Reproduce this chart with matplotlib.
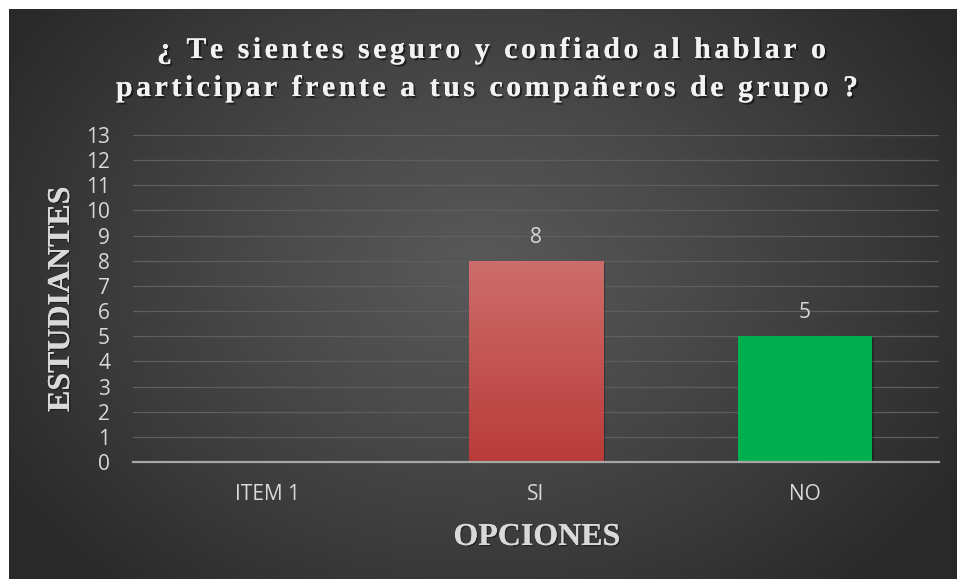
import numpy as np
import matplotlib
matplotlib.use("Agg")
import matplotlib.pyplot as plt
import matplotlib.patheffects as pe
from matplotlib import font_manager
from matplotlib.font_manager import FontProperties
from matplotlib.ft2font import FT2Font

plt.rcParams['font.family'] = ['Open Sans', 'DejaVu Sans']

categories = ["ITEM 1", "SI", "NO"]
values = [0, 8, 5]
yticks = list(range(0, 14))
title_lines = ["¿ Te sientes seguro y confiado al hablar o",
               "participar frente a tus compañeros de grupo ?"]
ylabel = "ESTUDIANTES"
xlabel = "OPCIONES"

W, H = 957, 579
fig = plt.figure(figsize=(W / 100, H / 100), dpi=100)
fig.patch.set_facecolor("white")

# dark radial background, white strip on the left and top
bg = fig.add_axes([9 / W, 0, 1 - 9 / W, 1 - 9 / H])
yy, xx = np.mgrid[0:570, 0:948]
r = np.sqrt(((xx - 470) / 560.0) ** 2 + ((yy - 260) / 430.0) ** 2)
r = np.clip(r, 0, 1) ** 1.2
c0, c1 = 0x58 / 255, 0x29 / 255
img = np.repeat((c0 + (c1 - c0) * r)[..., None], 3, axis=2)
bg.imshow(img, aspect='auto')
bg.axis('off')

ax = fig.add_axes([133 / W, 1 - 462 / H, (939 - 133) / W, (462 - 135) / H])
ax.patch.set_alpha(0)

x = np.arange(len(categories))
shadow = [pe.withSimplePatchShadow(offset=(1.5, -1.5), shadow_rgbFace='black', alpha=0.3), pe.Normal()]
bars = ax.bar(x, values, width=0.5, color=['#c0504d', '#c0504d', '#00b050'], zorder=3,
              path_effects=shadow)

# gradient fill for the red bar
b = bars[1]
grad = np.linspace(0, 1, 256)[:, None]
top = np.array([0xcd, 0x6e, 0x6c]) / 255
bot = np.array([0xb9, 0x3b, 0x39]) / 255
gimg = top + (bot - top) * grad[..., None]
gimg = np.repeat(gimg, 2, axis=1)
im = ax.imshow(gimg, extent=[b.get_x(), b.get_x() + b.get_width(), 0, b.get_height()],
               aspect='auto', zorder=3.5)
im.set_clip_path(b)

for xi, v in zip(x, values):
    if v:
        ax.text(xi, v + 0.93, str(v), ha='center', va='center', fontsize=15, color='#d9d9d9')

ax.set_xlim(-0.5, 2.5)
ax.set_ylim(0, 13)
ax.set_yticks(yticks)
ax.set_xticks(x)
ax.set_xticklabels(categories)
ax.yaxis.grid(True, color='#5e5e5e', lw=0.9)
ax.set_axisbelow(True)
for s in ['top', 'right', 'left']:
    ax.spines[s].set_visible(False)
ax.spines['bottom'].set_color('#a6a6a6')
ax.spines['bottom'].set_linewidth(1.6)
ax.spines['bottom'].set_zorder(4)
ax.tick_params(axis='both', length=0, colors='#d9d9d9', labelsize=15)
ax.tick_params(axis='y', pad=16.5)
ax.tick_params(axis='x', pad=16)

serif_b = FontProperties(family='Liberation Serif', weight='bold', size=23)
lbl_shadow = [pe.withSimplePatchShadow(offset=(1, -1), shadow_rgbFace='black', alpha=0.35), pe.Normal()]
txt_shadow = [pe.withSimplePatchShadow(offset=(1.5, -1.5), shadow_rgbFace='black', alpha=0.5), pe.Normal()]
fig.text(61.5 / W, 1 - 299 / H, ylabel, rotation=90, ha='center', va='center',
         fontproperties=serif_b, color='#d9d9d9', path_effects=lbl_shadow)
fig.text(537 / W, 1 - 545 / H, xlabel, ha='center', va='baseline',
         fontproperties=serif_b, color='#d9d9d9', path_effects=lbl_shadow)


def spaced(text, cx, base, target, size):
    fp = FontProperties(family='Liberation Serif', weight='bold', size=size)
    font = FT2Font(font_manager.findfont(fp))
    font.set_size(size, 100)
    advs = [font.load_char(ord(c)).linearHoriAdvance / 65536 for c in text]
    sp = (target - sum(advs)) / (len(text) - 1)
    px = cx - target / 2
    for c, a in zip(text, advs):
        fig.text(px / W, 1 - base / H, c, fontproperties=fp, ha='left', va='baseline',
                 color='#f2f2f2', path_effects=txt_shadow)
        px += a + sp


spaced(title_lines[0], 491.5, 58, 669, 21.5)
spaced(title_lines[1], 487, 96, 742, 21.5)

plt.savefig("out.png", dpi=100)
